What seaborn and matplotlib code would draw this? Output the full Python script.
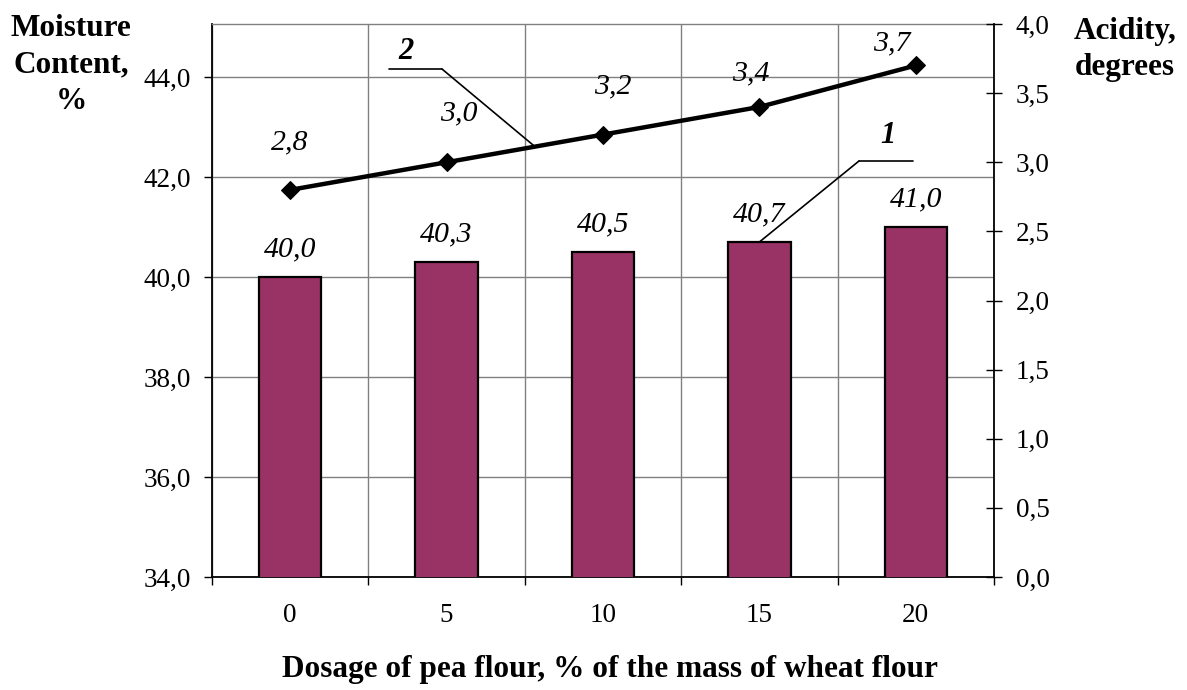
import matplotlib
matplotlib.use("Agg")
import matplotlib.pyplot as plt
import seaborn as sns
import numpy as np
import pandas as pd

# ---- data ----
dosage = ["0", "5", "10", "15", "20"]
moisture = [40.0, 40.3, 40.5, 40.7, 41.0]
acidity = [2.8, 3.0, 3.2, 3.4, 3.7]
moisture_ticks = [34.0, 36.0, 38.0, 40.0, 42.0, 44.0]
acidity_ticks = [0.0, 0.5, 1.0, 1.5, 2.0, 2.5, 3.0, 3.5, 4.0]

def fmt(v):
    return f"{v:.1f}".replace(".", ",")

sns.set_theme(style="white")
plt.rcParams['font.family'] = ['Liberation Serif', 'DejaVu Serif']
plt.rcParams['text.color'] = 'black'
plt.rcParams['axes.labelcolor'] = 'black'
plt.rcParams['xtick.color'] = 'black'
plt.rcParams['ytick.color'] = 'black'

W, H = 1187, 690
fig = plt.figure(figsize=(W / 100, H / 100), dpi=100)
ax = fig.add_axes([212 / W, 1 - 577 / H, 782 / W, 553 / H])

df = pd.DataFrame({"dosage": dosage, "moisture": moisture, "acidity": acidity})
sns.barplot(data=df, x="dosage", y="moisture", color="#993366", saturation=1,
            width=0.4, edgecolor="black", linewidth=1.6, ax=ax, zorder=3)
ax.set_ylim(34, 45.06)
ax.set_xlim(-0.5, len(dosage) - 0.5)
ax.set_yticks(moisture_ticks)
ax.set_yticklabels([fmt(v) for v in moisture_ticks])
ax.set_xticks(range(len(dosage)))
ax.set_xticklabels(dosage)
ax.set_xticks(np.arange(len(dosage) + 1) - 0.5, minor=True)
ax.set_xlabel("")
ax.set_ylabel("")
ax.set_axisbelow(True)
ax.grid(False)
ax.yaxis.grid(True, which="major", color="#808080", linewidth=1.0)
ax.xaxis.grid(True, which="minor", color="#808080", linewidth=1.0)
ax.tick_params(axis="x", which="major", length=0, pad=19, labelsize=19.5,
               colors="black", labelcolor="black")
ax.tick_params(axis="x", which="minor", length=6, width=1, direction="out", color="black", bottom=True)
ax.tick_params(axis="y", which="major", length=6, width=1, direction="out", pad=9,
               labelsize=19.5, colors="black", labelcolor="black", left=True)
for s in ["left", "bottom"]:
    ax.spines[s].set_color("black")
    ax.spines[s].set_linewidth(1.3)
ax.spines["top"].set_color("#808080")
ax.spines["top"].set_linewidth(1.0)
ax.spines["right"].set_visible(False)

# bar value labels
for i, v in enumerate(moisture):
    ax.annotate(fmt(v), (i, v), xytext=(0, 20), textcoords="offset points",
                ha="center", va="center", fontsize=21.5, fontstyle="italic", color="black")

# line on secondary axis
ax2 = ax.twinx()
xpos = np.arange(len(dosage))
sns.lineplot(x=xpos, y=acidity, ax=ax2, color="black", linewidth=3.2,
             marker="D", markersize=9, markeredgecolor="black", zorder=5)
ax2.set_ylim(0, 4)
ax2.set_xlim(-0.5, len(dosage) - 0.5)
ax2.set_yticks(acidity_ticks)
ax2.set_yticklabels([fmt(v) for v in acidity_ticks])
ax2.set_ylabel("")
ax2.set_xlabel("")
ax2.grid(False)
ax2.tick_params(axis="y", which="major", length=11, width=1, direction="inout", pad=10,
                labelsize=19.5, colors="black", labelcolor="black", right=True)
for s in ["left", "top", "bottom"]:
    ax2.spines[s].set_visible(False)
ax2.spines["right"].set_color("black")
ax2.spines["right"].set_linewidth(1.3)

# line value labels (offsets in points)
line_offsets = [(0, 34), (9, 35), (7, 35), (-6, 24), (-17, 16)]
for i, v in enumerate(acidity):
    ax2.annotate(fmt(v), (i, v), xytext=line_offsets[i], textcoords="offset points",
                 ha="center", va="center", fontsize=21.5, fontstyle="italic", color="black")

# leader labels
ax2.plot([0.2263, 0.2941], [0.9186, 0.9186], transform=ax2.transAxes, color="black", lw=1.2)
ax2.annotate("", xy=(1.565, 3.113), xycoords="data", xytext=(0.2941, 0.9186),
             textcoords="axes fraction",
             arrowprops=dict(arrowstyle="-", color="black", lw=1.2, shrinkA=0, shrinkB=0))
ax2.text(0.2481, 0.9494, "2", transform=ax2.transAxes, ha="center", va="center",
         fontsize=22, fontweight="bold", fontstyle="italic", color="black")

ax2.plot([0.8274, 0.8964], [0.7523, 0.7523], transform=ax2.transAxes, color="black", lw=1.2)
ax2.annotate("", xy=(3, moisture[3]), xycoords=ax.transData, xytext=(0.8274, 0.7523),
             textcoords="axes fraction",
             arrowprops=dict(arrowstyle="-", color="black", lw=1.2, shrinkA=0, shrinkB=0))
ax2.text(0.8645, 0.7975, "1", transform=ax2.transAxes, ha="center", va="center",
         fontsize=22, fontweight="bold", fontstyle="italic", color="black")

# axis titles
fig.text(71 / W, 1 - 14 / H, "Moisture\nContent,\n%", ha="center", va="top",
         multialignment="center", fontsize=22.5, fontweight="bold", linespacing=1.33,
         color="black")
fig.text(1125 / W, 1 - 17 / H, "Acidity,\ndegrees", ha="center", va="top",
         multialignment="center", fontsize=22.5, fontweight="bold", linespacing=1.3,
         color="black")
fig.text(610 / W, 1 - 669 / H, "Dosage of pea flour, % of the mass of wheat flour",
         ha="center", va="center", fontsize=22.5, fontweight="bold", color="black")

fig.savefig("out.png", dpi=100, facecolor="white")
